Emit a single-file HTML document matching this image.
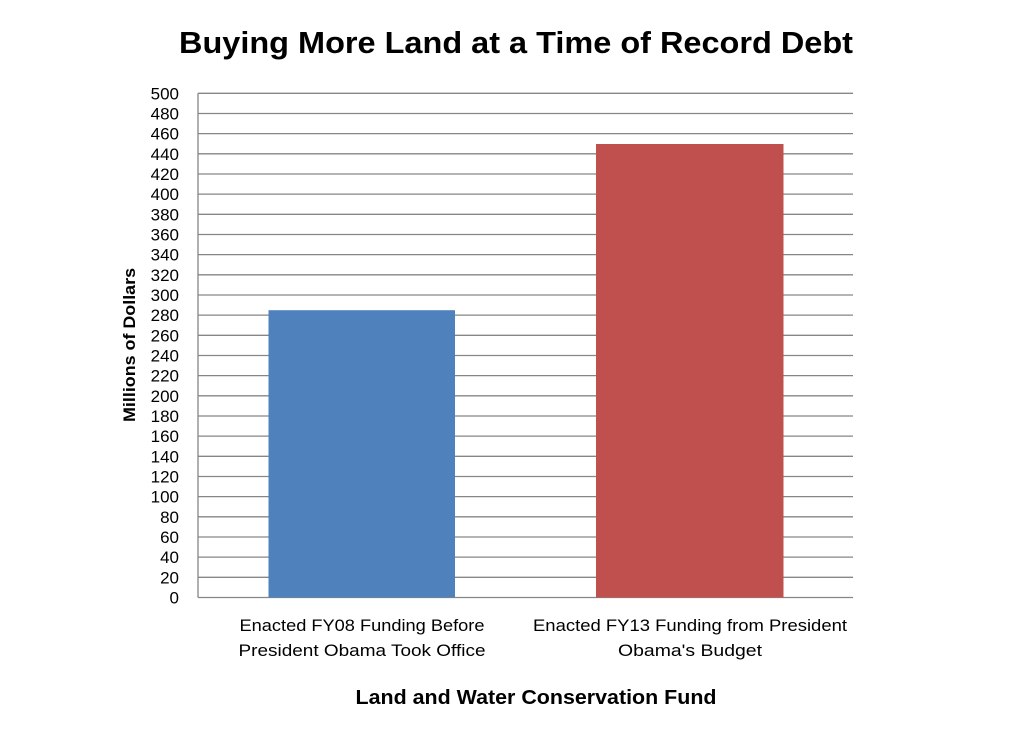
<!DOCTYPE html>
<html><head><meta charset="utf-8"><style>
html,body{margin:0;padding:0;background:#fff;}
svg{display:block;font-family:"Liberation Sans",sans-serif;}
</style></head><body>
<svg width="1032" height="729" viewBox="0 0 1032 729" xmlns="http://www.w3.org/2000/svg">
<rect width="1032" height="729" fill="#fff"/>
<text x="516" y="53" text-anchor="middle" font-size="31" font-weight="bold" textLength="674" lengthAdjust="spacingAndGlyphs" fill="#000">Buying More Land at a Time of Record Debt</text>
<g stroke="#868686" stroke-width="1.3">
<line x1="198" y1="93.3" x2="853" y2="93.3"/><line x1="198" y1="113.5" x2="853" y2="113.5"/><line x1="198" y1="133.6" x2="853" y2="133.6"/><line x1="198" y1="153.8" x2="853" y2="153.8"/><line x1="198" y1="174" x2="853" y2="174"/><line x1="198" y1="194.1" x2="853" y2="194.1"/><line x1="198" y1="214.3" x2="853" y2="214.3"/><line x1="198" y1="234.5" x2="853" y2="234.5"/><line x1="198" y1="254.6" x2="853" y2="254.6"/><line x1="198" y1="274.8" x2="853" y2="274.8"/><line x1="198" y1="295" x2="853" y2="295"/><line x1="198" y1="315.1" x2="853" y2="315.1"/><line x1="198" y1="335.3" x2="853" y2="335.3"/><line x1="198" y1="355.5" x2="853" y2="355.5"/><line x1="198" y1="375.6" x2="853" y2="375.6"/><line x1="198" y1="395.8" x2="853" y2="395.8"/><line x1="198" y1="416" x2="853" y2="416"/><line x1="198" y1="436.1" x2="853" y2="436.1"/><line x1="198" y1="456.3" x2="853" y2="456.3"/><line x1="198" y1="476.5" x2="853" y2="476.5"/><line x1="198" y1="496.6" x2="853" y2="496.6"/><line x1="198" y1="516.8" x2="853" y2="516.8"/><line x1="198" y1="537" x2="853" y2="537"/><line x1="198" y1="557.1" x2="853" y2="557.1"/><line x1="198" y1="577.3" x2="853" y2="577.3"/><line x1="198" y1="597.5" x2="853" y2="597.5"/>
<line x1="198" y1="93.3" x2="198" y2="597.5"/>
</g>
<rect x="268.5" y="310.2" width="186.5" height="287.3" fill="#4f81bd"/>
<rect x="596" y="144" width="187.5" height="453.5" fill="#c0504d"/>
<g font-size="17" text-anchor="end" fill="#000">
<text x="179" y="99.3">500</text><text x="179" y="119.5">480</text><text x="179" y="139.6">460</text><text x="179" y="159.8">440</text><text x="179" y="180">420</text><text x="179" y="200.1">400</text><text x="179" y="220.3">380</text><text x="179" y="240.5">360</text><text x="179" y="260.6">340</text><text x="179" y="280.8">320</text><text x="179" y="301">300</text><text x="179" y="321.1">280</text><text x="179" y="341.3">260</text><text x="179" y="361.5">240</text><text x="179" y="381.6">220</text><text x="179" y="401.8">200</text><text x="179" y="422">180</text><text x="179" y="442.1">160</text><text x="179" y="462.3">140</text><text x="179" y="482.5">120</text><text x="179" y="502.6">100</text><text x="179" y="522.8">80</text><text x="179" y="543">60</text><text x="179" y="563.1">40</text><text x="179" y="583.3">20</text><text x="179" y="603.5">0</text>
</g>
<text transform="translate(135,345) rotate(-90)" text-anchor="middle" font-size="17" font-weight="bold" textLength="154" lengthAdjust="spacingAndGlyphs">Millions of Dollars</text>
<g font-size="17" text-anchor="middle" fill="#000">
<text x="362" y="631" textLength="245" lengthAdjust="spacingAndGlyphs">Enacted FY08 Funding Before</text>
<text x="362" y="656" textLength="247" lengthAdjust="spacingAndGlyphs">President Obama Took Office</text>
<text x="690" y="631" textLength="314" lengthAdjust="spacingAndGlyphs">Enacted FY13 Funding from President</text>
<text x="690" y="656" textLength="144" lengthAdjust="spacingAndGlyphs">Obama's Budget</text>
</g>
<text x="536" y="704" text-anchor="middle" font-size="20" font-weight="bold" textLength="361" lengthAdjust="spacingAndGlyphs">Land and Water Conservation Fund</text>
</svg>
</body></html>
